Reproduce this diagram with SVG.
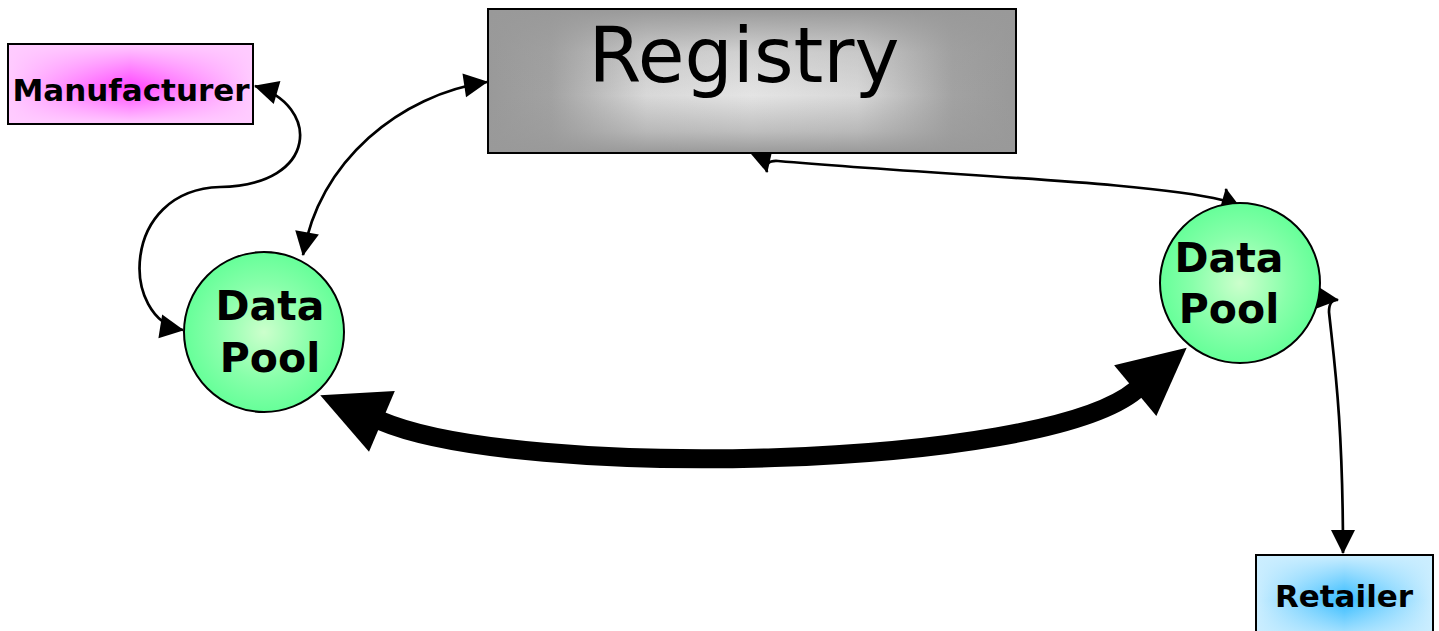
<svg xmlns="http://www.w3.org/2000/svg" width="1439" height="631" viewBox="0 0 1439 631">
  <style>
    .node-stroke { fill: none; stroke: #000; stroke-width: 2; }
    .conn { fill: none; stroke: #000; stroke-width: 2.7; marker-start: url(#arrow); marker-end: url(#arrow); }
    .thick { fill: none; stroke: #000; stroke-width: 19; marker-start: url(#bigarrow); marker-end: url(#bigarrow); }
    .bold { font-family: "DejaVu Sans", Verdana, sans-serif; font-weight: bold; fill: #000; text-anchor: middle; }
    .reg { font-family: "DejaVu Sans", Verdana, sans-serif; font-weight: normal; fill: #000; text-anchor: middle; font-size: 76px; }
  </style>
  <defs>
    <marker id="arrow" markerUnits="userSpaceOnUse" viewBox="0 0 24 24" markerWidth="24" markerHeight="24" refX="23" refY="12" orient="auto-start-reverse" overflow="visible">
      <path d="M0,0 L24,12 L0,24 Z" fill="#000"/>
    </marker>
    <marker id="bigarrow" markerUnits="userSpaceOnUse" viewBox="0 0 67 66" markerWidth="67" markerHeight="66" refX="1" refY="33" orient="auto-start-reverse" overflow="visible">
      <path d="M0,0 L67,33 L0,66 Z" fill="#000"/>
    </marker>
    <linearGradient id="pinkH" x1="0" y1="0" x2="1" y2="0">
      <stop offset="0" stop-color="#ffccff"/>
      <stop offset="0.5" stop-color="#ff44ff"/>
      <stop offset="1" stop-color="#ffccff"/>
    </linearGradient>
    <linearGradient id="pinkV" x1="0" y1="0" x2="0" y2="1">
      <stop offset="0" stop-color="#ffccff" stop-opacity="1"/>
      <stop offset="0.55" stop-color="#ffccff" stop-opacity="0"/>
      <stop offset="1" stop-color="#ffccff" stop-opacity="1"/>
    </linearGradient>
    <linearGradient id="grayH" x1="0" y1="0" x2="1" y2="0">
      <stop offset="0" stop-color="#999999"/>
      <stop offset="0.12" stop-color="#a2a2a2"/>
      <stop offset="0.3" stop-color="#d8d8d8"/>
      <stop offset="0.5" stop-color="#e4e4e4"/>
      <stop offset="0.7" stop-color="#d8d8d8"/>
      <stop offset="0.88" stop-color="#a2a2a2"/>
      <stop offset="1" stop-color="#999999"/>
    </linearGradient>
    <linearGradient id="grayV" x1="0" y1="0" x2="0" y2="1">
      <stop offset="0" stop-color="#999999" stop-opacity="1"/>
      <stop offset="0.3" stop-color="#999999" stop-opacity="0.25"/>
      <stop offset="0.6" stop-color="#999999" stop-opacity="0"/>
      <stop offset="0.85" stop-color="#999999" stop-opacity="0.5"/>
      <stop offset="1" stop-color="#999999" stop-opacity="1"/>
    </linearGradient>
    <linearGradient id="blueH" x1="0" y1="0" x2="1" y2="0">
      <stop offset="0" stop-color="#cceeff"/>
      <stop offset="0.5" stop-color="#33bbff"/>
      <stop offset="1" stop-color="#cceeff"/>
    </linearGradient>
    <linearGradient id="blueV" x1="0" y1="0" x2="0" y2="1">
      <stop offset="0" stop-color="#cceeff" stop-opacity="1"/>
      <stop offset="0.5" stop-color="#cceeff" stop-opacity="0"/>
      <stop offset="1" stop-color="#cceeff" stop-opacity="1"/>
    </linearGradient>
    <radialGradient id="gGreen" cx="0.5" cy="0.5" r="0.5">
      <stop offset="0" stop-color="#ccffcc"/>
      <stop offset="0.6" stop-color="#88ffaa"/>
      <stop offset="1" stop-color="#66ff99"/>
    </radialGradient>
  </defs>

  <g id="connectors">
    <path id="c-manu-pool1" class="conn" d="M 255 86 C 320 105, 320 185, 220 187 C 120 190, 120 320, 183 330"/>
    <path id="c-reg-pool1" class="conn" d="M 487 82 C 400 95, 320 160, 303 255"/>
    <path id="c-reg-pool2" class="conn" d="M 767 172 Q 764 160 778 161 C 950 176, 1150 182, 1222 200 Q 1229 205 1226 189"/>
    <path id="c-pool2-retail" class="conn" d="M 1338 300 Q 1329 299 1329 312 C 1334 360, 1343 420, 1343 553"/>
    <path id="c-pool1-pool2" class="thick" d="M 381 421 C 520 480, 1040 470, 1136 390"/>
  </g>

  <g id="manufacturer">
    <rect x="8" y="44" width="245" height="80" fill="url(#pinkH)"/>
    <rect x="8" y="44" width="245" height="80" fill="url(#pinkV)"/>
    <rect x="8" y="44" width="245" height="80" class="node-stroke"/>
    <text x="131" y="101" class="bold" font-size="31">Manufacturer</text>
  </g>

  <g id="registry">
    <rect x="488" y="9" width="528" height="144" fill="url(#grayH)"/>
    <rect x="488" y="9" width="528" height="144" fill="url(#grayV)"/>
    <rect x="488" y="9" width="528" height="144" class="node-stroke"/>
    <text x="744" y="82" class="reg">Registry</text>
  </g>

  <g id="datapool-left">
    <circle cx="264" cy="332" r="80" fill="url(#gGreen)" stroke="#000" stroke-width="2"/>
    <text x="270" y="320" class="bold" font-size="41">Data</text>
    <text x="270" y="372" class="bold" font-size="41">Pool</text>
  </g>

  <g id="datapool-right">
    <circle cx="1240" cy="283" r="80" fill="url(#gGreen)" stroke="#000" stroke-width="2"/>
    <text x="1229" y="272" class="bold" font-size="41">Data</text>
    <text x="1229" y="323" class="bold" font-size="41">Pool</text>
  </g>

  <g id="retailer">
    <rect x="1256" y="555" width="177" height="90" fill="url(#blueH)"/>
    <rect x="1256" y="555" width="177" height="90" fill="url(#blueV)"/>
    <rect x="1256" y="555" width="177" height="90" class="node-stroke"/>
    <text x="1344" y="607" class="bold" font-size="31">Retailer</text>
  </g>
</svg>
